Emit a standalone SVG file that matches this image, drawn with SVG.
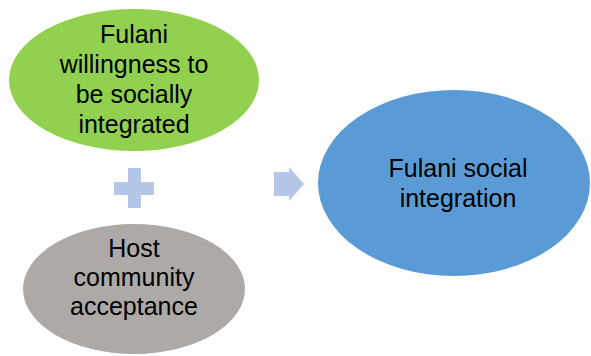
<svg xmlns="http://www.w3.org/2000/svg" width="591" height="356" viewBox="0 0 591 356">
<style>
.lbl{font-family:"Liberation Sans",Arial,sans-serif;font-size:25px;fill:#000;text-anchor:middle}
.conn{fill:#B4C7E7}
</style>
<rect width="591" height="356" fill="#fff"/>
<g id="node-willingness">
<ellipse cx="134" cy="80" rx="125" ry="71" fill="#92D050"/>
<text class="lbl" x="134" y="43">Fulani</text>
<text class="lbl" x="134" y="73">willingness to</text>
<text class="lbl" x="134" y="103">be socially</text>
<text class="lbl" x="134" y="133">integrated</text>
</g>
<g id="node-host">
<ellipse cx="134" cy="289" rx="111" ry="65" fill="#ADA9A6"/>
<text class="lbl" x="134" y="257">Host</text>
<text class="lbl" x="134" y="286">community</text>
<text class="lbl" x="134" y="315">acceptance</text>
</g>
<g id="node-integration">
<ellipse cx="454" cy="183" rx="136" ry="93" fill="#5B9BD5"/>
<text class="lbl" x="458" y="177">Fulani social</text>
<text class="lbl" x="458" y="207">integration</text>
</g>
<g id="connectors">
<path class="conn" d="M128,168 H141 V182 H154 V195 H141 V208 H128 V195 H114 V182 H128 Z"/>
<path class="conn" d="M274,172 H289 V167 L304,184 L289,201 V196 H274 Z"/>
</g>
</svg>
